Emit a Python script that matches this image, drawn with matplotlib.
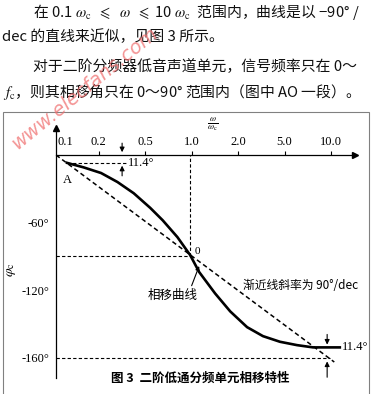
import numpy as np
import matplotlib
matplotlib.use("Agg")
import matplotlib.pyplot as plt
from matplotlib.patches import Rectangle

plt.rcParams['font.family'] = ['Liberation Serif', 'Noto Sans CJK SC', 'DejaVu Sans']
plt.rcParams['mathtext.fontset'] = 'stix'
cjk = ['Noto Sans CJK SC', 'DejaVu Sans']

# 相移曲线
w_curve = [0.125, 0.16, 0.21, 0.29, 0.40, 0.54, 0.65, 0.81, 0.98, 1.12,
           1.42, 1.78, 2.39, 3.27, 4.57, 6.03, 7.66, 9.44, 11.4]
phi_curve = [-7, -11, -16, -24, -34, -47, -58, -73, -89, -104,
             -123, -139, -153, -161, -166, -169, -171, -171, -171]

# 渐近线
w_asym = [0.106, 10.5]
phi_asym = [0, -184]

w_ticks = [0.2, 0.5, 1.0, 2.0, 5.0, 10.0]
w_tick_labels = ['0.2', '0.5', '1.0', '2.0', '5.0', '10.0']
phi_ticks = [-60, -120, -180]
phi_tick_labels = ['-60°', '-120°', '-160°']

# the drawing spaces 0.1, 0.2, 0.5, 1, 2, 5, 10 evenly
grid = [0.1, 0.2, 0.5, 1, 2, 5, 10, 20]

def fwd(w):
    return np.interp(np.log10(np.clip(w, 1e-3, None)), np.log10(grid), np.arange(len(grid)))

def inv(p):
    return 10 ** np.interp(p, np.arange(len(grid)), np.log10(grid))

fig = plt.figure(figsize=(3.78, 3.94), dpi=100)

# text above the figure
top_lines = [
    (33, 12, r'在 0.1 $\omega_{\rm c}\ \ \leqslant\ \ \omega\ \ \leqslant$ 10 $\omega_{\rm c}$  范围内，曲线是以 −90° /'),
    (2, 37, 'dec 的直线来近似，见图 3 所示。'),
    (33, 67, '对于二阶分频器低音声道单元，信号频率只在 0～'),
    (3, 92, r'$f_{\rm c}$，则其相移角只在 0～90° 范围内（图中 AO 一段）。'),
]
for x, y, s in top_lines:
    fig.text(x / 378, 1 - y / 394, s, ha='left', va='center', fontsize=10.7,
             family=cjk, color='#111111')

# frame around the figure
fig.patches.append(Rectangle((3 / 378, -0.05), 366 / 378, (394 - 112) / 394 + 0.05,
                             transform=fig.transFigure, fill=False, ec='#808080', lw=0.8))

ax = fig.add_axes([56 / 378, 16 / 394, 299 / 378, 250 / 394])
ax.patch.set_alpha(0)
ax.set_xscale('function', functions=(fwd, inv))
ax.set_xlim(0.106, 14.3)
ax.set_ylim(-198.2, 24)

ax.spines['right'].set_visible(False)
ax.spines['bottom'].set_visible(False)
ax.spines['top'].set_position(('data', 0))
ax.spines['top'].set_linewidth(0.9)
ax.spines['left'].set_linewidth(0.9)
ax.xaxis.set_ticks_position('top')
ax.set_xticks(w_ticks, w_tick_labels)
ax.tick_params(axis='x', direction='out', length=3, width=0.8, pad=2, labelsize=9)
ax.set_yticks(phi_ticks, phi_tick_labels)
ax.tick_params(axis='y', length=0, pad=5, labelsize=9)
ax.minorticks_off()

ax.plot(1, 0, '>k', ms=5, transform=ax.get_yaxis_transform(), clip_on=False)
ax.plot(0, 1, '^k', ms=5, transform=ax.transAxes, clip_on=False)
ax.annotate('0.1', (0.121, 0), xytext=(0, 5), textcoords='offset points',
            ha='center', va='bottom', fontsize=9)

# guide lines
dash = dict(color='k', lw=0.8, ls=(0, (3, 2)))
ax.plot([0.106, 0.97], [-90, -90], **dash)
ax.plot([0.97, 0.97], [-90, 0], **dash)
ax.plot([0.106, 9.9], [-180, -180], **dash)
ax.plot([0.125, 0.35], [-7, -7], **dash)

ax.plot(w_asym, phi_asym, color='k', lw=1.1, ls=(0, (3, 2)))
ax.plot(w_curve, phi_curve, color='k', lw=1.9)

arr = dict(arrowstyle='-|>', color='k', lw=0.8, mutation_scale=7)
ax.annotate('', xy=(0.318, 0), xytext=(0.318, 13), arrowprops=arr)
ax.annotate('', xy=(0.318, -7), xytext=(0.318, -21), arrowprops=arr)
ax.annotate('', xy=(9.44, -171), xytext=(9.44, -157), arrowprops=arr)
ax.annotate('', xy=(9.44, -181), xytext=(9.44, -200), arrowprops=arr, annotation_clip=False)
ax.text(0.357, -7, '11.4°', ha='left', va='center', fontsize=9)
ax.text(11.8, -171, '11.4°', ha='left', va='center', fontsize=9)

ax.text(0.125, -22, 'A', ha='center', va='center', fontsize=9)
ax.text(1.05, -86, '0', ha='left', va='center', fontsize=8)
ax.annotate('相移曲线', xy=(1.12, -98.7), xytext=(0.759, -124.4),
            ha='center', va='center', fontsize=9, family=cjk,
            arrowprops=dict(arrowstyle='-|>', color='k', lw=0.8, mutation_scale=6,
                            shrinkA=0, shrinkB=0, relpos=(0.85, 1.0)))
ax.text(2.21, -115.6, '渐近线斜率为 90°/dec', ha='left', va='center', fontsize=8.5, family=cjk)
ax.text(1.36, 27.5, r'$\frac{\omega}{\omega_{\rm c}}$', ha='center', va='center', fontsize=9)

fig.text(12 / 378, 1 - 270 / 394, r'$\varphi_{\rm c}$', rotation=90,
         ha='center', va='center', fontsize=10)

fig.text(200 / 378, 1 - 378 / 394, '图 3  二阶低通分频单元相移特性', ha='center', va='center',
         fontsize=9, weight='bold', family=cjk)

# watermark
fig.text(85 / 378, 1 - 88 / 394, 'www.elecfans.com', rotation=39, color='#f07070',
         fontsize=14, style='italic', ha='center', va='center', family='DejaVu Sans', alpha=0.75)

fig.savefig('out.png', dpi=100)
